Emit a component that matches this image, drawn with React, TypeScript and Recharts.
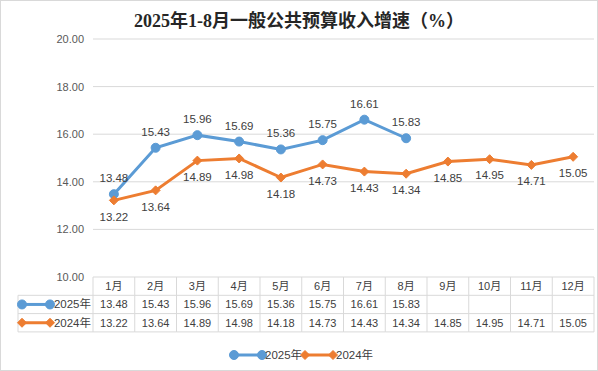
import { LineChart, Line, XAxis, YAxis, CartesianGrid, LabelList } from 'recharts'

const months = ['1月', '2月', '3月', '4月', '5月', '6月', '7月', '8月', '9月', '10月', '11月', '12月']
const growth2025 = [13.48, 15.43, 15.96, 15.69, 15.36, 15.75, 16.61, 15.83]
const growth2024 = [13.22, 13.64, 14.89, 14.98, 14.18, 14.73, 14.43, 14.34, 14.85, 14.95, 14.71, 15.05]
const yTicks = [10, 12, 14, 16, 18, 20]

const BLUE = '#5b9bd5'
const ORANGE = '#ed7d31'
const GRID = '#d9d9d9'
const TEXT = '#404040'
const FONT = "'Liberation Sans', 'Noto Sans CJK SC', sans-serif"

const PLOT_W = 501
const COL_W = PLOT_W / months.length

const series = [
  { key: 'y2025', name: '2025年', color: BLUE, values: growth2025, shape: 'circle' },
  { key: 'y2024', name: '2024年', color: ORANGE, values: growth2024, shape: 'diamond' },
]

const data = months.map((m, i) => ({
  month: m,
  y2025: growth2025[i] ?? null,
  y2024: growth2024[i] ?? null,
}))

const fmt = (v: number | null | undefined) => (v == null ? '' : v.toFixed(2))

const Marker = ({ cx, cy, shape, color }: { cx: number; cy: number; shape: string; color: string }) =>
  shape === 'circle' ? (
    <circle cx={cx} cy={cy} r={4.5} fill={color} stroke={color} />
  ) : (
    <polygon points={`${cx},${cy - 4.5} ${cx + 4.5},${cy} ${cx},${cy + 4.5} ${cx - 4.5},${cy}`} fill={color} stroke={color} />
  )

const LegendIcon = ({ x, y, shape, color }: { x: number; y: number; shape: string; color: string }) => (
  <g>
    <line x1={x} y1={y} x2={x + 28} y2={y} stroke={color} strokeWidth={3} />
    <Marker cx={x} cy={y} shape={shape} color={color} />
    <Marker cx={x + 28} cy={y} shape={shape} color={color} />
  </g>
)

const ROW = 18.3

// x axis tick draws one column of the data table
const TableTick = (props: any) => {
  const { x, y, payload, index } = props
  const l = x - COL_W / 2
  const r = x + COL_W / 2
  const isLast = index === months.length - 1
  return (
    <g fontFamily={FONT} fontSize={11} fill={TEXT}>
      <line x1={l} y1={y} x2={l} y2={y + ROW * 3} stroke={GRID} />
      {isLast && <line x1={r} y1={y} x2={r} y2={y + ROW * 3} stroke={GRID} />}
      {[1, 2, 3].map((k) => (
        <line key={k} x1={l} y1={y + ROW * k} x2={r} y2={y + ROW * k} stroke={GRID} />
      ))}
      <text x={x} y={y + ROW * 0.5} textAnchor="middle" dominantBaseline="central">{payload.value}</text>
      {series.map((s, k) => (
        <text key={s.key} x={x} y={y + ROW * (k + 1.5)} textAnchor="middle" dominantBaseline="central">
          {fmt(s.values[index])}
        </text>
      ))}
      {index === 0 && (
        <g>
          <line x1={18} y1={y + ROW} x2={18} y2={y + ROW * 3} stroke={GRID} />
          {[1, 2, 3].map((k) => (
            <line key={k} x1={18} y1={y + ROW * k} x2={l} y2={y + ROW * k} stroke={GRID} />
          ))}
          {series.map((s, k) => (
            <g key={s.key}>
              <LegendIcon x={22} y={y + ROW * (k + 1.5)} shape={s.shape} color={s.color} />
              <text x={l - 2} y={y + ROW * (k + 1.5)} textAnchor="end" dominantBaseline="central" fontSize={11.5}>
                {s.name}
              </text>
            </g>
          ))}
        </g>
      )}
    </g>
  )
}

export default function App() {
  return (
    <div style={{ position: 'absolute', left: 0, top: 0, width: 598, height: 371, background: '#fff' }}>
      <svg width={598} height={371} style={{ position: 'absolute', left: 0, top: 0 }}>
        <rect x={0.5} y={0.5} width={597} height={370} fill="#fff" stroke={GRID} />
        <text
          x={299}
          y={21}
          textAnchor="middle"
          dominantBaseline="central"
          fontFamily="'Liberation Serif', 'Noto Sans CJK SC', serif"
          fontWeight="bold"
          fontSize={18}
          fill="#262626"
        >
          2025年1-8月一般公共预算收入增速（%）
        </text>
        <g fontFamily={FONT} fontSize={11.5} fill={TEXT}>
          {series.map((s, k) => (
            <g key={s.key}>
              <LegendIcon x={234 + k * 71} y={355} shape={s.shape} color={s.color} />
              <text x={265 + k * 71} y={355} dominantBaseline="central">{s.name}</text>
            </g>
          ))}
        </g>
      </svg>
      <div style={{ position: 'absolute', left: 0, top: 0 }}>
        <LineChart width={598} height={371} data={data} margin={{ top: 39, right: 4, bottom: 0, left: 33 }}>
          <CartesianGrid vertical={false} stroke={GRID} />
          <XAxis
            dataKey="month"
            height={94}
            axisLine={false}
            tickLine={false}
            tickSize={0}
            tickMargin={0}
            interval={0}
            padding={{ left: COL_W / 2, right: COL_W / 2 }}
            tick={<TableTick />}
          />
          <YAxis
            domain={[10, 20]}
            ticks={yTicks}
            width={60}
            axisLine={false}
            tickLine={false}
            tickSize={0}
            tickMargin={9}
            tickFormatter={(v: number) => v.toFixed(2)}
            tick={{ fontFamily: FONT, fontSize: 11, fill: '#595959' }}
          />
          {series.map((s, k) => (
            <Line
              key={s.key}
              dataKey={s.key}
              name={s.name}
              stroke={s.color}
              strokeWidth={3}
              isAnimationActive={false}
              dot={(p: any) =>
                p.value == null ? <g key={p.index} /> : <Marker key={p.index} cx={p.cx} cy={p.cy} shape={s.shape} color={s.color} />
              }
              activeDot={false}
            >
              <LabelList
                dataKey={s.key}
                position={k === 0 ? 'top' : 'bottom'}
                offset={12}
                formatter={(v: any) => fmt(v)}
                style={{ fontFamily: FONT, fontSize: 11.5, fill: TEXT }}
              />
            </Line>
          ))}
        </LineChart>
      </div>
    </div>
  )
}
